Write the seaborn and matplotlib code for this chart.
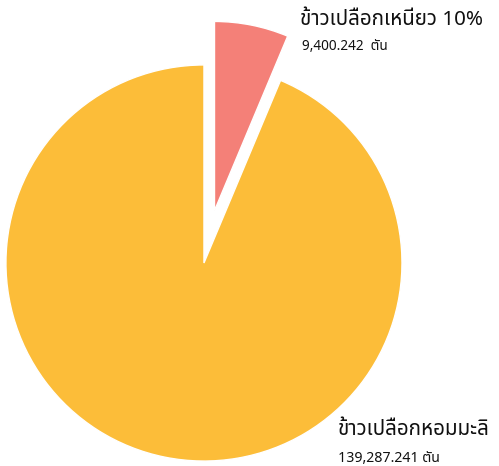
import matplotlib
matplotlib.use("Agg")
import matplotlib.pyplot as plt
import seaborn as sns

# data
categories = ["ข้าวเปลือกเหนียว", "ข้าวเปลือกหอมมะลิ"]
tonnes = [9400.242, 139287.241]
pct_labels = ["10%", ""]
unit = "ตัน"
colors = ["#F48078", "#FCBD39"]

sns.set_style("white")
plt.rcParams["font.family"] = ["Noto Sans Thai", "DejaVu Sans"]

fig = plt.figure(figsize=(4.99, 4.66), dpi=100)
ax = fig.add_axes([0, 0, 1, 1])
wedges, _ = ax.pie(tonnes, colors=colors, startangle=90, counterclock=False,
                   explode=[0.27, 0], radius=1.0)
# the small slice is drawn a little smaller in the original
wedges[0].set_radius(0.955)
ax.set_xlim(-1.03, 1.49)
ax.set_ylim(-1.025, 1.328)
ax.set_aspect("equal", adjustable="datalim")
ax.axis("off")

txt = "#111111"
fig.text(300 / 499, 1 - 20 / 466, f"{categories[0]} {pct_labels[0]}",
         fontsize=14.8, va="center", ha="left", color=txt)
fig.text(302 / 499, 1 - 47 / 466, f"{tonnes[0]:,.3f}  {unit}",
         fontsize=9.8, va="center", ha="left", color=txt)
fig.text(338 / 499, 1 - 430 / 466, categories[1],
         fontsize=14.8, va="center", ha="left", color=txt)
fig.text(338 / 499, 1 - 458 / 466, f"{tonnes[1]:,.3f} {unit}",
         fontsize=10.2, va="center", ha="left", color=txt)

fig.savefig("out.png", dpi=100)
